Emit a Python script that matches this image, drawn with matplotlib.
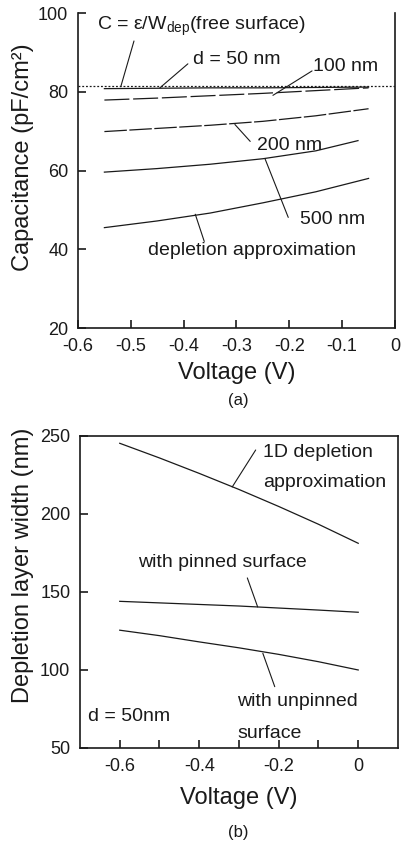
import matplotlib
matplotlib.use("Agg")
import matplotlib.pyplot as plt

plt.rcParams['font.family'] = ['Liberation Sans', 'DejaVu Sans']
plt.rcParams['axes.unicode_minus'] = False
plt.rcParams['mathtext.fontset'] = 'custom'
plt.rcParams['mathtext.rm'] = 'Liberation Sans'

# (a) capacitance vs voltage
volt_a = [-0.55, -0.45, -0.35, -0.25, -0.15, -0.05]
volt_500 = [-0.55, -0.45, -0.35, -0.25, -0.15, -0.07]
cap_free = 81.4
cap_50 = [80.8, 80.9, 81.0, 81.0, 81.1, 81.2]
cap_100 = [77.9, 78.4, 79.0, 79.6, 80.3, 81.0]
cap_200 = [69.9, 70.7, 71.5, 72.5, 73.9, 75.7]
cap_500 = [59.6, 60.5, 61.6, 63.0, 65.0, 67.6]
cap_depl = [45.5, 47.2, 49.2, 51.8, 54.6, 58.0]

# (b) depletion layer width vs voltage
volt_b = [-0.6, -0.5, -0.4, -0.3, -0.2, -0.1, 0.0]
w_1d = [245.3, 235.9, 226.0, 215.7, 204.8, 193.4, 181.2]
w_pinned = [144.0, 143.0, 142.0, 141.0, 139.7, 138.4, 137.0]
w_unpinned = [125.5, 122.0, 118.0, 114.2, 110.0, 105.3, 100.0]

ink = '#1a1a1a'
lw = 0.9

fig = plt.figure(figsize=(4.03, 8.47), dpi=100)
ax1 = fig.add_axes([0.1935, 0.6127, 0.7866, 0.3719])
ax2 = fig.add_axes([0.1985, 0.1169, 0.789, 0.3684])

# ---- panel (a)
ax1.axhline(cap_free, color=ink, lw=lw, ls=(0, (1.5, 1.5)))
ax1.plot(volt_a, cap_50, color=ink, lw=lw)
ax1.plot(volt_a, cap_100, color=ink, lw=lw, ls=(0, (20, 3)))
ax1.plot(volt_a, cap_200, color=ink, lw=lw, ls=(0, (18, 2)))
ax1.plot(volt_500, cap_500, color=ink, lw=lw)
ax1.plot(volt_a, cap_depl, color=ink, lw=lw)

ax1.set_xlim(-0.6, 0)
ax1.set_ylim(20, 100)
ax1.set_xticks([-0.6, -0.5, -0.4, -0.3, -0.2, -0.1, 0])
ax1.set_xticklabels(['-0.6', '-0.5', '-0.4', '-0.3', '-0.2', '-0.1', '0'])
ax1.set_yticks([20, 40, 60, 80, 100])
ax1.spines['top'].set_visible(False)
ax1.set_xlabel('Voltage (V)', fontsize=17, color=ink, labelpad=5)
ax1.set_ylabel('Capacitance (pF/cm²)', fontsize=17, color=ink)
ax1.yaxis.set_label_coords(-0.14, 0.543)

notes_a = [
    (r'C = ε/W$_\mathregular{dep}$(free surface)', (-0.564, 96.7), (-0.494, 92.9), (-0.519, 81.3)),
    ('d = 50 nm', (-0.382, 88.3), (-0.392, 87.1), (-0.445, 81.0)),
    ('100 nm', (-0.155, 86.3), (-0.157, 85.3), (-0.231, 79.1)),
    ('200 nm', (-0.261, 66.3), (-0.274, 67.4), (-0.303, 71.7)),
    ('500 nm', (-0.180, 47.6), (-0.202, 48.1), (-0.246, 63.0)),
    ('depletion approximation', (-0.467, 39.8), (-0.361, 42.0), (-0.378, 48.9)),
]
for txt, tpos, p0, p1 in notes_a:
    ax1.text(tpos[0], tpos[1], txt, fontsize=14, color=ink, ha='left', va='center')
    ax1.annotate('', xy=p1, xytext=p0,
                 arrowprops=dict(arrowstyle='-', color=ink, lw=0.8, shrinkA=0, shrinkB=0))

# ---- panel (b)
ax2.plot(volt_b, w_1d, color=ink, lw=lw)
ax2.plot(volt_b, w_pinned, color=ink, lw=lw)
ax2.plot(volt_b, w_unpinned, color=ink, lw=lw)

ax2.set_xlim(-0.7, 0.1)
ax2.set_ylim(50, 250)
ax2.set_xticks([-0.6, -0.4, -0.2, 0])
ax2.set_xticklabels(['-0.6', '-0.4', '-0.2', '0'])
ax2.set_xticks([-0.5, -0.3, -0.1], minor=True)
ax2.set_yticks([50, 100, 150, 200, 250])
ax2.set_xlabel('Voltage (V)', fontsize=17, color=ink, labelpad=9)
ax2.set_ylabel('Depletion layer width (nm)', fontsize=17, color=ink)
ax2.yaxis.set_label_coords(-0.145, 0.587)

notes_b = [
    ('1D depletion', (-0.24, 239.7)),
    ('approximation', (-0.24, 219.9)),
    ('with pinned surface', (-0.554, 169.2)),
    ('with unpinned', (-0.304, 80.1)),
    ('surface', (-0.304, 59.6)),
    ('d = 50nm', (-0.681, 70.1)),
]
for txt, tpos in notes_b:
    ax2.text(tpos[0], tpos[1], txt, fontsize=14, color=ink, ha='left', va='center')

leaders_b = [
    ((-0.258, 241.0), (-0.317, 217.3)),
    ((-0.279, 159.0), (-0.253, 140.4)),
    ((-0.210, 89.3), (-0.240, 110.7)),
]
for p0, p1 in leaders_b:
    ax2.annotate('', xy=p1, xytext=p0,
                 arrowprops=dict(arrowstyle='-', color=ink, lw=0.8, shrinkA=0, shrinkB=0))

for ax in (ax1, ax2):
    for s in ax.spines.values():
        s.set_linewidth(1.2)
        s.set_color(ink)
    ax.tick_params(which='both', direction='in', length=6, width=1.2,
                   labelsize=13, colors=ink, pad=7, top=False, right=False)

fig.text(238 / 403, 1 - 400 / 847, '(a)', fontsize=12, color=ink, ha='center', va='center')
fig.text(238 / 403, 1 - 832 / 847, '(b)', fontsize=12, color=ink, ha='center', va='center')

fig.savefig('out.png', dpi=100)
